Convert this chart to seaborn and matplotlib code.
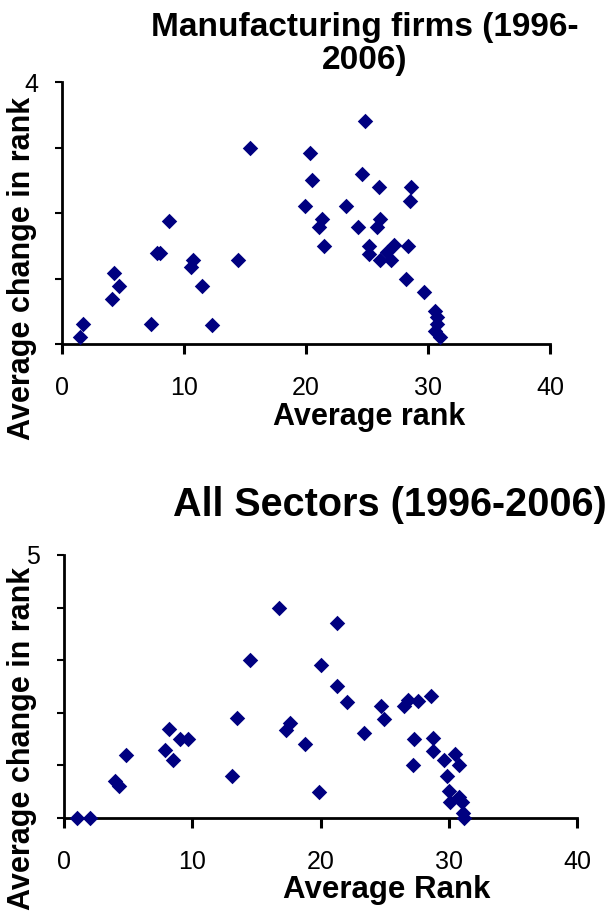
import matplotlib
matplotlib.use("Agg")
import matplotlib.pyplot as plt
import seaborn as sns
import pandas as pd

sns.set_theme(style="white")
plt.rcParams['font.family'] = ['Liberation Sans', 'DejaVu Sans']
plt.rcParams['text.color'] = 'black'

# ---- data: Manufacturing firms (1996-2006) ----
manuf_rank = [1.5, 1.7, 4.1, 4.3, 4.7, 7.3, 7.8, 8.0, 8.8, 10.6, 10.7, 11.5, 12.3, 14.4,
              15.4, 19.9, 20.3, 20.5, 21.1, 21.3, 21.5, 23.3, 24.3, 24.6, 24.8, 25.2,
              25.2, 25.8, 26.0, 26.1, 26.1, 26.6, 27.0, 27.2, 28.2, 28.4, 28.5, 28.6,
              29.7, 30.6, 30.7, 30.7, 30.6, 31.0]
manuf_change = [0.10, 0.30, 0.69, 1.09, 0.89, 0.30, 1.39, 1.39, 1.88, 1.18, 1.29, 0.89, 0.29, 1.29,
                3.00, 2.10, 2.91, 2.50, 1.79, 1.91, 1.50, 2.10, 1.79, 2.60, 3.41, 1.50,
                1.37, 1.79, 2.39, 1.91, 1.29, 1.41, 1.28, 1.51, 0.99, 1.50, 2.19, 2.39,
                0.80, 0.51, 0.41, 0.31, 0.20, 0.10]

# ---- data: All Sectors (1996-2006) ----
all_rank = [1.05, 2.0, 4.0, 4.3, 4.86, 7.87, 8.19, 8.53, 9.06, 9.7, 13.1, 13.5, 14.5, 16.8,
            17.3, 17.65, 18.8, 19.9, 20.0, 21.3, 21.3, 22.1, 23.4, 24.7, 24.95, 26.5,
            26.8, 27.6, 28.6, 27.3, 27.2, 28.8, 28.8, 29.6, 30.5, 30.8, 29.9, 30.0,
            30.1, 30.8, 31.0, 31.1, 31.2]
all_change = [0.0, 0.0, 0.71, 0.60, 1.20, 1.30, 1.69, 1.11, 1.50, 1.50, 0.80, 1.90, 3.00, 4.00,
              1.68, 1.80, 1.40, 0.50, 2.90, 3.70, 2.51, 2.21, 1.61, 2.12, 1.89, 2.12,
              2.24, 2.22, 2.31, 1.50, 1.00, 1.52, 1.28, 1.11, 1.22, 1.00, 0.79, 0.52,
              0.30, 0.40, 0.30, 0.10, 0.00]

x_ticks = [0, 10, 20, 30, 40]
top_yticks = [0, 1, 2, 3, 4]
top_ylabels = ['', '', '', '', '4']
bot_yticks = [0, 1, 2, 3, 4, 5]
bot_ylabels = ['', '', '', '', '', '5']

df_top = pd.DataFrame({'rank': manuf_rank, 'change': manuf_change})
df_bot = pd.DataFrame({'rank': all_rank, 'change': all_change})

W, H = 606, 917
fig = plt.figure(figsize=(W / 100, H / 100), dpi=100)
ax1 = fig.add_axes([62 / W, 1 - 344 / H, 488 / W, 262 / H])
ax2 = fig.add_axes([64 / W, 1 - 818 / H, 513 / W, 263 / H])

navy = '#000080'
for ax, df, yt, yl, ymax in [(ax1, df_top, top_yticks, top_ylabels, 4),
                              (ax2, df_bot, bot_yticks, bot_ylabels, 5)]:
    sns.scatterplot(data=df, x='rank', y='change', marker='D', s=62, color=navy,
                    linewidth=0, ax=ax, clip_on=False, zorder=3)
    ax.set_xlim(0, 40)
    ax.set_ylim(0, ymax)
    ax.set_xticks(x_ticks)
    ax.set_xticklabels([str(t) for t in x_ticks], fontsize=18, color='black')
    ax.set_yticks(yt)
    ax.set_yticklabels(yl, fontsize=18, color='black')
    for s in ['top', 'right']:
        ax.spines[s].set_visible(False)
    for s in ['left', 'bottom']:
        ax.spines[s].set_color('black')
        ax.spines[s].set_linewidth(2)
    ax.tick_params(axis='x', bottom=True, direction='out', length=7, width=2.2, pad=16,
                   color='black', labelcolor='black')
    ax.tick_params(axis='y', left=True, direction='out', length=5, width=1.5, pad=12,
                   color='black', labelcolor='black')
    ax.set_xlabel('')
    ax.set_ylabel('')

# Titles and labels
fig.text(365 / W, 1 - 44 / H, 'Manufacturing firms (1996-\n2006)', ha='center', va='center',
         fontsize=24, fontweight='bold', linespacing=1.1, color='black')
fig.text(390 / W, 1 - 505 / H, 'All Sectors (1996-2006)', ha='center', va='center',
         fontsize=28.5, fontweight='bold', color='black')

fig.text(369 / W, 1 - 417 / H, 'Average rank', ha='center', va='center',
         fontsize=22, fontweight='bold', color='black')
fig.text(387 / W, 1 - 890 / H, 'Average Rank', ha='center', va='center',
         fontsize=22.5, fontweight='bold', color='black')

fig.text(22 / W, 1 - 268 / H, 'Average change in rank', ha='center', va='center',
         rotation=90, fontsize=22, fontweight='bold', color='black')
fig.text(22 / W, 1 - 738 / H, 'Average change in rank', ha='center', va='center',
         rotation=90, fontsize=22, fontweight='bold', color='black')

fig.savefig('out.png', dpi=100, facecolor='white')
